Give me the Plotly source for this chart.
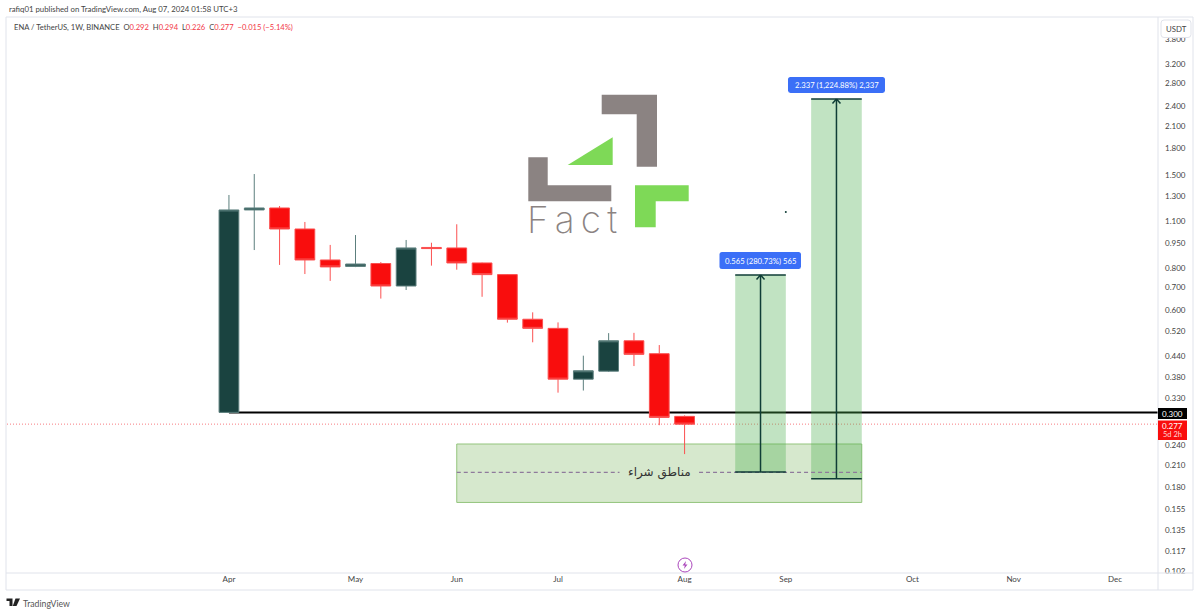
"""ENA / TetherUS weekly chart, TradingView style (Plotly)."""
import math

import plotly.graph_objects as go

# --- data ---
week_dates = ["2024-04-01", "2024-04-08", "2024-04-15", "2024-04-22", "2024-04-29",
              "2024-05-06", "2024-05-13", "2024-05-20", "2024-05-27", "2024-06-03",
              "2024-06-10", "2024-06-17", "2024-06-24", "2024-07-01", "2024-07-08",
              "2024-07-15", "2024-07-22", "2024-07-29", "2024-08-05"]
opens = [0.300, 1.187, 1.203, 1.043, 0.845, 0.809, 0.825, 0.708, 0.920, 0.917,
         0.828, 0.765, 0.565, 0.531, 0.376, 0.397, 0.488, 0.447, 0.292]
highs = [1.314, 1.515, 1.219, 1.094, 0.936, 1.001, 0.833, 0.968, 0.950, 1.077,
         0.830, 0.768, 0.592, 0.553, 0.441, 0.514, 0.515, 0.474, 0.294]
lows = [0.300, 0.904, 0.817, 0.768, 0.733, 0.805, 0.650, 0.689, 0.813, 0.791,
        0.658, 0.552, 0.483, 0.343, 0.348, 0.395, 0.411, 0.275, 0.226]
closes = [1.187, 1.203, 1.043, 0.845, 0.806, 0.822, 0.708, 0.917, 0.913, 0.828,
          0.765, 0.565, 0.531, 0.376, 0.398, 0.488, 0.445, 0.290, 0.277]

price_ticks = [3.8, 3.2, 2.8, 2.4, 2.1, 1.8, 1.5, 1.3, 1.1, 0.95, 0.8, 0.7, 0.6, 0.52,
               0.44, 0.38, 0.33, 0.24, 0.21, 0.18, 0.155, 0.135, 0.117, 0.102]
month_ticks = ["2024-04-01", "2024-05-06", "2024-06-03", "2024-07-01", "2024-08-05",
               "2024-09-02", "2024-10-07", "2024-11-04", "2024-12-02"]
month_labels = ["Apr", "May", "Jun", "Jul", "Aug", "Sep", "Oct", "Nov", "Dec"]

support_price = 0.300
last_price = 0.277
zone_dates = ["2024-06-03", "2024-09-23"]
zone_prices = [0.1627, 0.242]
zone_mid = 0.1995
zone_left_dates = ["2024-06-03", "2024-07-18"]
zone_right_dates = ["2024-08-09", "2024-09-23"]
target1_dates = ["2024-08-19", "2024-09-02"]
target1_prices = [0.200, 0.763]
target1_mid = "2024-08-26"
target2_dates = ["2024-09-09", "2024-09-23"]
target2_prices = [0.191, 2.522]
target2_mid = "2024-09-16"
stray_date = ["2024-09-02"]
stray_price = [1.171]

UP = "#1a4340"
UP_LINE = "#5c7f7d"
DOWN = "#f90d0d"
DOWN_LINE = "#fb5050"
BORDER = "#e0e3eb"
DARK = "#0f3d36"
TEXT = "#444444"
FONT = "Lato, 'Open Sans', sans-serif"

# page geometry
L, R, T, B = 7, 1158, 17, 577
AX_BOTTOM = 573


def px(x):
    return (x - L) / (R - L)


def py(y):
    return (B - y) / (B - T)


def poly(points):
    return "M" + "L".join(f"{px(x):.5f},{py(y):.5f}" for x, y in points) + "Z"


def round_rect(x0, y0, x1, y1, r):
    return (f"M{px(x0 + r):.5f},{py(y0):.5f}L{px(x1 - r):.5f},{py(y0):.5f}"
            f"Q{px(x1):.5f},{py(y0):.5f} {px(x1):.5f},{py(y0 + r):.5f}"
            f"L{px(x1):.5f},{py(y1 - r):.5f}"
            f"Q{px(x1):.5f},{py(y1):.5f} {px(x1 - r):.5f},{py(y1):.5f}"
            f"L{px(x0 + r):.5f},{py(y1):.5f}"
            f"Q{px(x0):.5f},{py(y1):.5f} {px(x0):.5f},{py(y1 - r):.5f}"
            f"L{px(x0):.5f},{py(y0 + r):.5f}"
            f"Q{px(x0):.5f},{py(y0):.5f} {px(x0 + r):.5f},{py(y0):.5f}Z")


def path_shape(path, fill, line=None, width=0, layer="above"):
    return dict(type="path", path=path, xref="paper", yref="paper", fillcolor=fill,
                line=dict(color=line or fill, width=width), layer=layer)


def frame_line(x0, y0, x1, y1):
    return dict(type="line", xref="paper", yref="paper", x0=px(x0), y0=py(y0), x1=px(x1), y1=py(y1),
                line=dict(color=BORDER, width=1), layer="above")


def label(x, y, text, size=8, color=TEXT, xanchor="center", family=FONT, weight=None):
    font = dict(size=size, color=color, family=family)
    if weight:
        font["weight"] = weight
    return dict(x=px(x), y=py(y), xref="paper", yref="paper", text=text, showarrow=False,
                xanchor=xanchor, yanchor="middle", font=font)


def chevron(date, price, dx):
    return dict(x=date, y=math.log10(price), xref="x", yref="y", text=" ", showarrow=True,
                arrowhead=0, arrowwidth=1.5, arrowcolor=DARK, ax=dx, ay=8, standoff=0)


fig = go.Figure()

fig.add_trace(go.Scatter(x=zone_left_dates, y=[zone_mid, zone_mid], mode="lines",
                         line=dict(color="#8f7a9c", width=1.2, dash="4px,3px"), hoverinfo="skip"))
fig.add_trace(go.Scatter(x=zone_right_dates, y=[zone_mid, zone_mid], mode="lines",
                         line=dict(color="#8f7a9c", width=1.2, dash="4px,3px"), hoverinfo="skip"))

fig.add_trace(go.Candlestick(
    x=week_dates, open=opens, high=highs, low=lows, close=closes,
    increasing=dict(line=dict(color=UP_LINE, width=1), fillcolor=UP),
    decreasing=dict(line=dict(color=DOWN_LINE, width=1), fillcolor=DOWN),
    whiskerwidth=0,
))

# target boxes: edges and shafts
for dates, prices, mid in ((target1_dates, target1_prices, target1_mid),
                           (target2_dates, target2_prices, target2_mid)):
    for p in prices:
        fig.add_trace(go.Scatter(x=dates, y=[p, p], mode="lines",
                                 line=dict(color=DARK, width=1.5), hoverinfo="skip"))
    fig.add_trace(go.Scatter(x=[mid, mid], y=prices, mode="lines",
                             line=dict(color=DARK, width=1.5), hoverinfo="skip"))

fig.add_trace(go.Scatter(x=stray_date, y=stray_price, mode="markers",
                         marker=dict(color=DARK, size=2), hoverinfo="skip"))

shapes = [
    # buy zone, targets, support and last price
    dict(type="rect", xref="x", yref="y", x0=zone_dates[0], x1=zone_dates[1],
         y0=zone_prices[0], y1=zone_prices[1], fillcolor="#d6e8cd",
         line=dict(color="#93c47d", width=1), layer="below"),
    dict(type="line", xref="x", yref="y", x0=week_dates[0], x1="2024-12-15",
         y0=support_price, y1=support_price, line=dict(color="#000000", width=2), layer="below"),
    dict(type="line", xref="paper", yref="y", x0=0, x1=1, y0=last_price, y1=last_price,
         line=dict(color="#f77c80", width=1, dash="1px,2px"), layer="below"),
    dict(type="rect", xref="x", yref="y", x0=target1_dates[0], x1=target1_dates[1],
         y0=target1_prices[0], y1=target1_prices[1], fillcolor="rgba(76,175,80,0.35)",
         line=dict(width=0), layer="below"),
    dict(type="rect", xref="x", yref="y", x0=target2_dates[0], x1=target2_dates[1],
         y0=target2_prices[0], y1=target2_prices[1], fillcolor="rgba(76,175,80,0.35)",
         line=dict(width=0), layer="below"),
    # logo watermark
    path_shape(poly([(601.7, 94.7), (657, 94.7), (657, 166.7), (636.7, 166.7), (636.7, 114.3), (601.7, 114.3)]), "#8b8382"),
    path_shape(poly([(567.7, 165), (612.7, 137.3), (612.7, 165)]), "#7ed957"),
    path_shape(poly([(528.3, 157.3), (547.7, 157.3), (547.7, 185.3), (611.3, 185.3), (611.3, 201.3), (528.3, 201.3)]), "#8b8382"),
    path_shape(poly([(635, 185.3), (688.7, 185.3), (688.7, 201.3), (655.7, 201.3), (655.7, 227.3), (635, 227.3)]), "#7ed957"),
    # covers for clipped axis labels
    path_shape(poly([(1158.5, 573.5), (1193, 573.5), (1193, 590), (1158.5, 590)]), "#ffffff"),
    # frame
    frame_line(6, 17, 1193, 17), frame_line(6, 17, 6, 590), frame_line(1193, 17, 1193, 590),
    frame_line(6, 590, 1193, 590), frame_line(1158, 17, 1158, 590), frame_line(6, 573, 1193, 573),
    # USDT button, percent labels, price tags
    path_shape(round_rect(1161, 20, 1191, 37.5, 3), "#ffffff", BORDER, 1),
    path_shape(round_rect(719.5, 252, 801, 269, 2.5), "#3b6ff7"),
    path_shape(round_rect(788, 77, 885, 93, 2.5), "#3b6ff7"),
    path_shape(poly([(1158, 408), (1187, 408), (1187, 419), (1158, 419)]), "#000000"),
    path_shape(poly([(1158, 420.5), (1187, 420.5), (1187, 440), (1158, 440)]), "#f90d0d"),
    # lightning mark
    dict(type="circle", xref="paper", yref="paper", x0=px(678), x1=px(692), y0=py(572), y1=py(558),
         line=dict(color="#ab47bc", width=1), fillcolor="#ffffff", layer="above"),
    path_shape(poly([(686, 561), (682.5, 565.5), (684.8, 565.5), (684, 569), (687.5, 564.5), (685.2, 564.5)]), "#ab47bc"),
    # TradingView mark
    path_shape(poly([(6.5, 598.5), (12.5, 598.5), (12.5, 606), (9.5, 606), (9.5, 601), (6.5, 601)]), "#222222"),
    path_shape(poly([(15.5, 598.5), (20, 598.5), (16.5, 606), (12.8, 606)]), "#222222"),
]

red = "#f23645"
legend_text = (f'ENA / TetherUS, 1W, BINANCE  O<span style="color:{red}">0.292</span>'
               f'  H<span style="color:{red}">0.294</span>  L<span style="color:{red}">0.226</span>'
               f'  C<span style="color:{red}">0.277</span>'
               f'  <span style="color:{red}">−0.015 (−5.14%)</span>')

annotations = [
    label(7, 9, "rafiq01 published on TradingView.com, Aug 07, 2024 01:58 UTC+3", 7.8, xanchor="left"),
    label(12, 27, legend_text, 7.6, xanchor="left"),
    label(1176, 29, "USDT", 7.8),
    label(760, 260.5, "0.565 (280.73%) 565", 7.7, "#ffffff"),
    label(836.5, 85, "2.337 (1,224.88%) 2,337", 7.7, "#ffffff"),
    label(1172.5, 413.5, "0.300", 8, "#ffffff"),
    label(1172.5, 425.5, "0.277", 8, "#ffffff"),
    label(1172.5, 434.5, "5d 2h", 7.5, "#ffd5d5"),
    label(659, 472, "مناطق شراء", 12, "#333333", family="'DejaVu Sans'"),
    label(21, 603, "TradingView", 8.7, "#555555", xanchor="left"),
    label(571.5, 219.5, "F\u2006a\u2006c\u2006t", 37, "#8b8382", family="Inter, Lato", weight=200),
    chevron(target1_mid, target1_prices[1], -7),
    chevron(target1_mid, target1_prices[1], 7),
    chevron(target2_mid, target2_prices[1], -7),
    chevron(target2_mid, target2_prices[1], 7),
]

fig.update_layout(
    width=1200,
    height=614,
    autosize=False,
    margin=dict(l=L, r=1200 - R, t=T, b=614 - B, pad=0),
    paper_bgcolor="#ffffff",
    plot_bgcolor="#ffffff",
    showlegend=False,
    boxgap=0.22,
    boxgroupgap=0,
    shapes=shapes,
    annotations=annotations,
    xaxis=dict(
        type="date",
        range=["2024-01-30 15:00", "2024-12-13 22:00"],
        rangeslider=dict(visible=False),
        tickmode="array",
        tickvals=month_ticks,
        ticktext=month_labels,
        tickfont=dict(size=8, color=TEXT, family=FONT),
        showgrid=False,
        zeroline=False,
        ticks="",
        anchor="free",
        position=(B - AX_BOTTOM) / (B - T),
    ),
    yaxis=dict(
        type="log",
        side="right",
        range=[-1.0086, 0.6438],
        tickmode="array",
        tickvals=price_ticks,
        ticktext=[f"{v:.3f}" for v in price_ticks],
        tickfont=dict(size=8, color=TEXT, family=FONT),
        showgrid=False,
        zeroline=False,
        ticks="",
        ticklabelstandoff=6,
    ),
)

# the page's default body margin would shift the figure by 8px
fig.write_html("out.html", config={"displayModeBar": False},
               post_script="document.body.style.margin='0';")
